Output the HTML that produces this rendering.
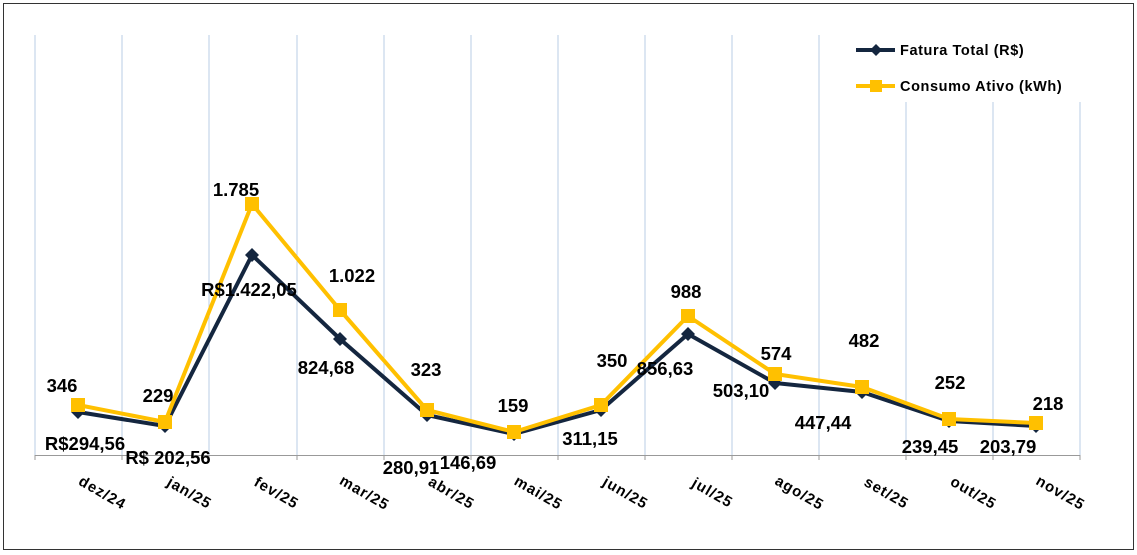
<!DOCTYPE html><html><head><style>body{margin:0;background:#fff}svg{display:block}</style></head><body>
<svg width="1137" height="555" xmlns="http://www.w3.org/2000/svg" font-family="Liberation Sans, sans-serif">
<rect x="3.5" y="3.5" width="1130" height="546" fill="#fff" stroke="#333" stroke-width="1"/>
<g stroke="#b9cde5" stroke-width="1">
<line x1="35" y1="35" x2="35" y2="455"/><line x1="122" y1="35" x2="122" y2="455"/><line x1="209" y1="35" x2="209" y2="455"/><line x1="297" y1="35" x2="297" y2="455"/><line x1="384" y1="35" x2="384" y2="455"/><line x1="471" y1="35" x2="471" y2="455"/><line x1="558" y1="35" x2="558" y2="455"/><line x1="645" y1="35" x2="645" y2="455"/><line x1="732" y1="35" x2="732" y2="455"/><line x1="819" y1="35" x2="819" y2="455"/><line x1="906" y1="35" x2="906" y2="455"/><line x1="993" y1="35" x2="993" y2="455"/><line x1="1080" y1="35" x2="1080" y2="455"/>
</g>
<line x1="35" y1="455.5" x2="1080" y2="455.5" stroke="#999" stroke-width="1"/>
<g stroke="#999"><line x1="35" y1="455" x2="35" y2="460"/><line x1="122" y1="455" x2="122" y2="460"/><line x1="209" y1="455" x2="209" y2="460"/><line x1="297" y1="455" x2="297" y2="460"/><line x1="384" y1="455" x2="384" y2="460"/><line x1="471" y1="455" x2="471" y2="460"/><line x1="558" y1="455" x2="558" y2="460"/><line x1="645" y1="455" x2="645" y2="460"/><line x1="732" y1="455" x2="732" y2="460"/><line x1="819" y1="455" x2="819" y2="460"/><line x1="906" y1="455" x2="906" y2="460"/><line x1="993" y1="455" x2="993" y2="460"/><line x1="1080" y1="455" x2="1080" y2="460"/></g>
<rect x="845" y="30" width="245" height="72" fill="#fff"/>
<polyline fill="none" stroke="#14263f" stroke-width="4" stroke-linejoin="round" points="78,412 165,426 252,255 340,339 427,415 514,434 601,410 688,334 775,383 862,392 949,421 1036,426"/>
<g fill="#14263f">
<path d="M78,405l7,7l-7,7l-7,-7z"/><path d="M165,419l7,7l-7,7l-7,-7z"/><path d="M252,248l7,7l-7,7l-7,-7z"/><path d="M340,332l7,7l-7,7l-7,-7z"/><path d="M427,408l7,7l-7,7l-7,-7z"/><path d="M514,427l7,7l-7,7l-7,-7z"/><path d="M601,403l7,7l-7,7l-7,-7z"/><path d="M688,327l7,7l-7,7l-7,-7z"/><path d="M775,376l7,7l-7,7l-7,-7z"/><path d="M862,385l7,7l-7,7l-7,-7z"/><path d="M949,414l7,7l-7,7l-7,-7z"/><path d="M1036,419l7,7l-7,7l-7,-7z"/>
</g>
<polyline fill="none" stroke="#ffc000" stroke-width="4" stroke-linejoin="round" points="78,405 165,422 252,204 340,310 427,410 514,432 601,405 688,316 775,374 862,387 949,419 1036,423"/>
<g fill="#ffc000">
<rect x="71" y="398" width="14" height="14"/><rect x="158" y="415" width="14" height="14"/><rect x="245" y="197" width="14" height="14"/><rect x="333" y="303" width="14" height="14"/><rect x="420" y="403" width="14" height="14"/><rect x="507" y="425" width="14" height="14"/><rect x="594" y="398" width="14" height="14"/><rect x="681" y="309" width="14" height="14"/><rect x="768" y="367" width="14" height="14"/><rect x="855" y="380" width="14" height="14"/><rect x="942" y="412" width="14" height="14"/><rect x="1029" y="416" width="14" height="14"/>
</g>
<g font-size="18.5" font-weight="bold" fill="#000" text-anchor="middle">
<text x="62" y="392">346</text><text x="85" y="450">R$294,56</text>
<text x="158" y="402">229</text><text x="168" y="464">R$ 202,56</text>
<text x="236" y="196">1.785</text><text x="249" y="296">R$1.422,05</text>
<text x="352" y="282">1.022</text><text x="326" y="374">824,68</text>
<text x="426" y="376">323</text><text x="411" y="474">280,91</text>
<text x="513" y="412">159</text><text x="468" y="469">146,69</text>
<text x="612" y="367">350</text><text x="590" y="445">311,15</text>
<text x="686" y="298">988</text><text x="665" y="375">856,63</text>
<text x="776" y="360">574</text><text x="741" y="397">503,10</text>
<text x="864" y="347">482</text><text x="823" y="429">447,44</text>
<text x="950" y="389">252</text><text x="930" y="453">239,45</text>
<text x="1048" y="410">218</text><text x="1008" y="453">203,79</text>
</g>
<g font-size="15" font-weight="bold" fill="#000" text-anchor="middle" letter-spacing="1">
<text transform="translate(100,497) rotate(30)">dez/24</text>
<text transform="translate(187,497) rotate(30)">jan/25</text>
<text transform="translate(274,497) rotate(30)">fev/25</text>
<text transform="translate(362,497) rotate(30)">mar/25</text>
<text transform="translate(449,497) rotate(30)">abr/25</text>
<text transform="translate(536,497) rotate(30)">mai/25</text>
<text transform="translate(623,497) rotate(30)">jun/25</text>
<text transform="translate(710,497) rotate(30)">jul/25</text>
<text transform="translate(797,497) rotate(30)">ago/25</text>
<text transform="translate(884,497) rotate(30)">set/25</text>
<text transform="translate(971,497) rotate(30)">out/25</text>
<text transform="translate(1058,497) rotate(30)">nov/25</text>
</g>
<line x1="856" y1="50" x2="895" y2="50" stroke="#14263f" stroke-width="4"/>
<path d="M876,44l6,6l-6,6l-6,-6z" fill="#14263f"/>
<line x1="856" y1="86" x2="895" y2="86" stroke="#ffc000" stroke-width="4"/>
<rect x="870" y="80" width="12" height="12" fill="#ffc000"/>
<g font-size="14.5" font-weight="bold" fill="#000" letter-spacing="0.6">
<text x="900" y="55">Fatura Total (R$)</text>
<text x="900" y="91">Consumo Ativo (kWh)</text>
</g>
</svg>
</body></html>
